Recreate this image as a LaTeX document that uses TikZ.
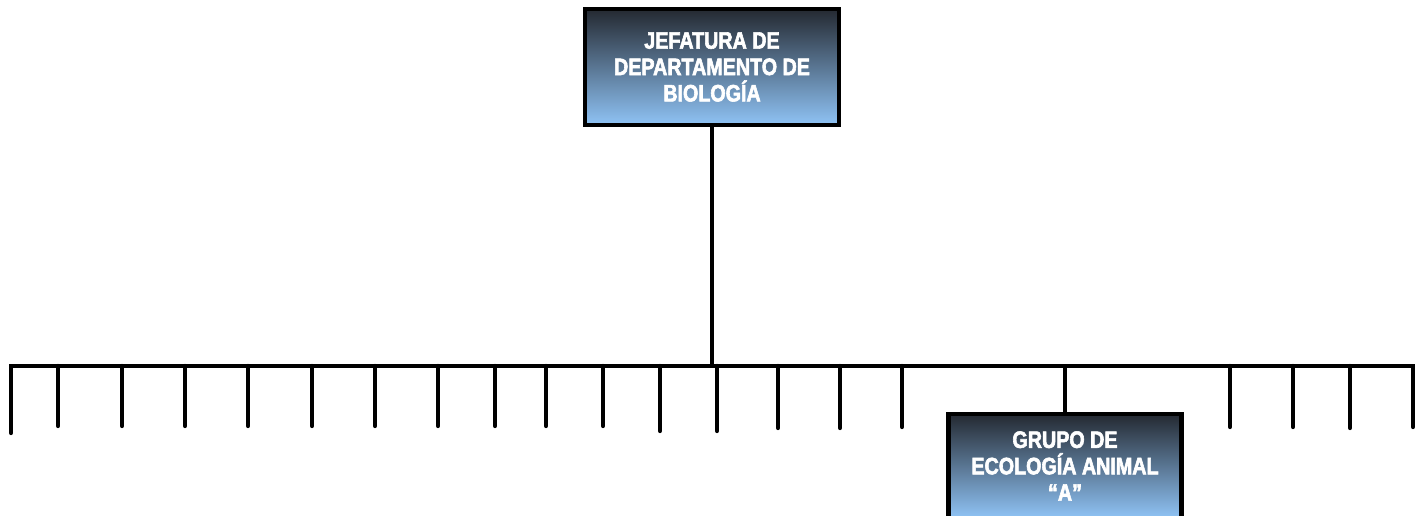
\documentclass[tikz,border=0pt]{standalone}
\usepackage{fontspec}
\usepackage{tikz}
\usepackage{xcolor}
\newfontfamily\boxfont[FakeStretch=0.83, FakeBold=2.5]{Liberation Sans}

\definecolor{boxtop}{RGB}{36,41,49}
\definecolor{boxbottom}{RGB}{143,195,245}

\tikzset{
  orgbox/.style={draw=black, line width=3.2pt, top color=boxtop, bottom color=boxbottom,
    text=white, align=center, inner sep=0pt,
    font=\boxfont\bfseries\fontsize{17.8}{19.8}\selectfont},
  orgline/.style={line width=3.2pt, line cap=round, line join=miter}
}

\begin{document}
\begin{tikzpicture}[x=0.75pt, y=-0.75pt]
    \useasboundingbox (0,0) rectangle (1422,516);
    \clip (0,0) rectangle (1422,516);

    % Boxes
    \node[orgbox, minimum width=190.5pt, minimum height=87pt] (jefatura) at (712,67)
        {JEFATURA DE\\DEPARTAMENTO DE\\BIOLOGÍA};
    \node[orgbox, minimum width=174.75pt, minimum height=78pt] (ecologia) at (1065,466)
        {GRUPO DE\\ECOLOGÍA ANIMAL\\“A”};

    % Bar
    \coordinate (barL) at (11,366);
    \coordinate (barR) at (1413,366);
    \coordinate (barC) at (712,366);
    \coordinate (endL) at (11,433);
    \coordinate (endR) at (1413,427);
    \draw[orgline] (endL) -- (barL) -- (barR) -- (endR);
    \draw[orgline, line cap=butt] (jefatura.south) -- (barC);
    \draw[orgline, line cap=butt] (ecologia.north |- barC) -- (ecologia.north);

    % Ticks
    \foreach \x/\y [count=\i] in {58/426, 122/426, 185/426, 248/426, 312/426, 375/426,
        438/426, 495/426, 546/426, 603/426, 660/431, 717/431, 778/428, 840/428,
        902/427, 1230/427, 1293/427, 1350/428} {
      \coordinate (tickT\i) at (\x,366);
      \coordinate (tickB\i) at (\x,\y);
      \draw[orgline] (tickT\i) -- (tickB\i);
    }
\end{tikzpicture}
\end{document}
